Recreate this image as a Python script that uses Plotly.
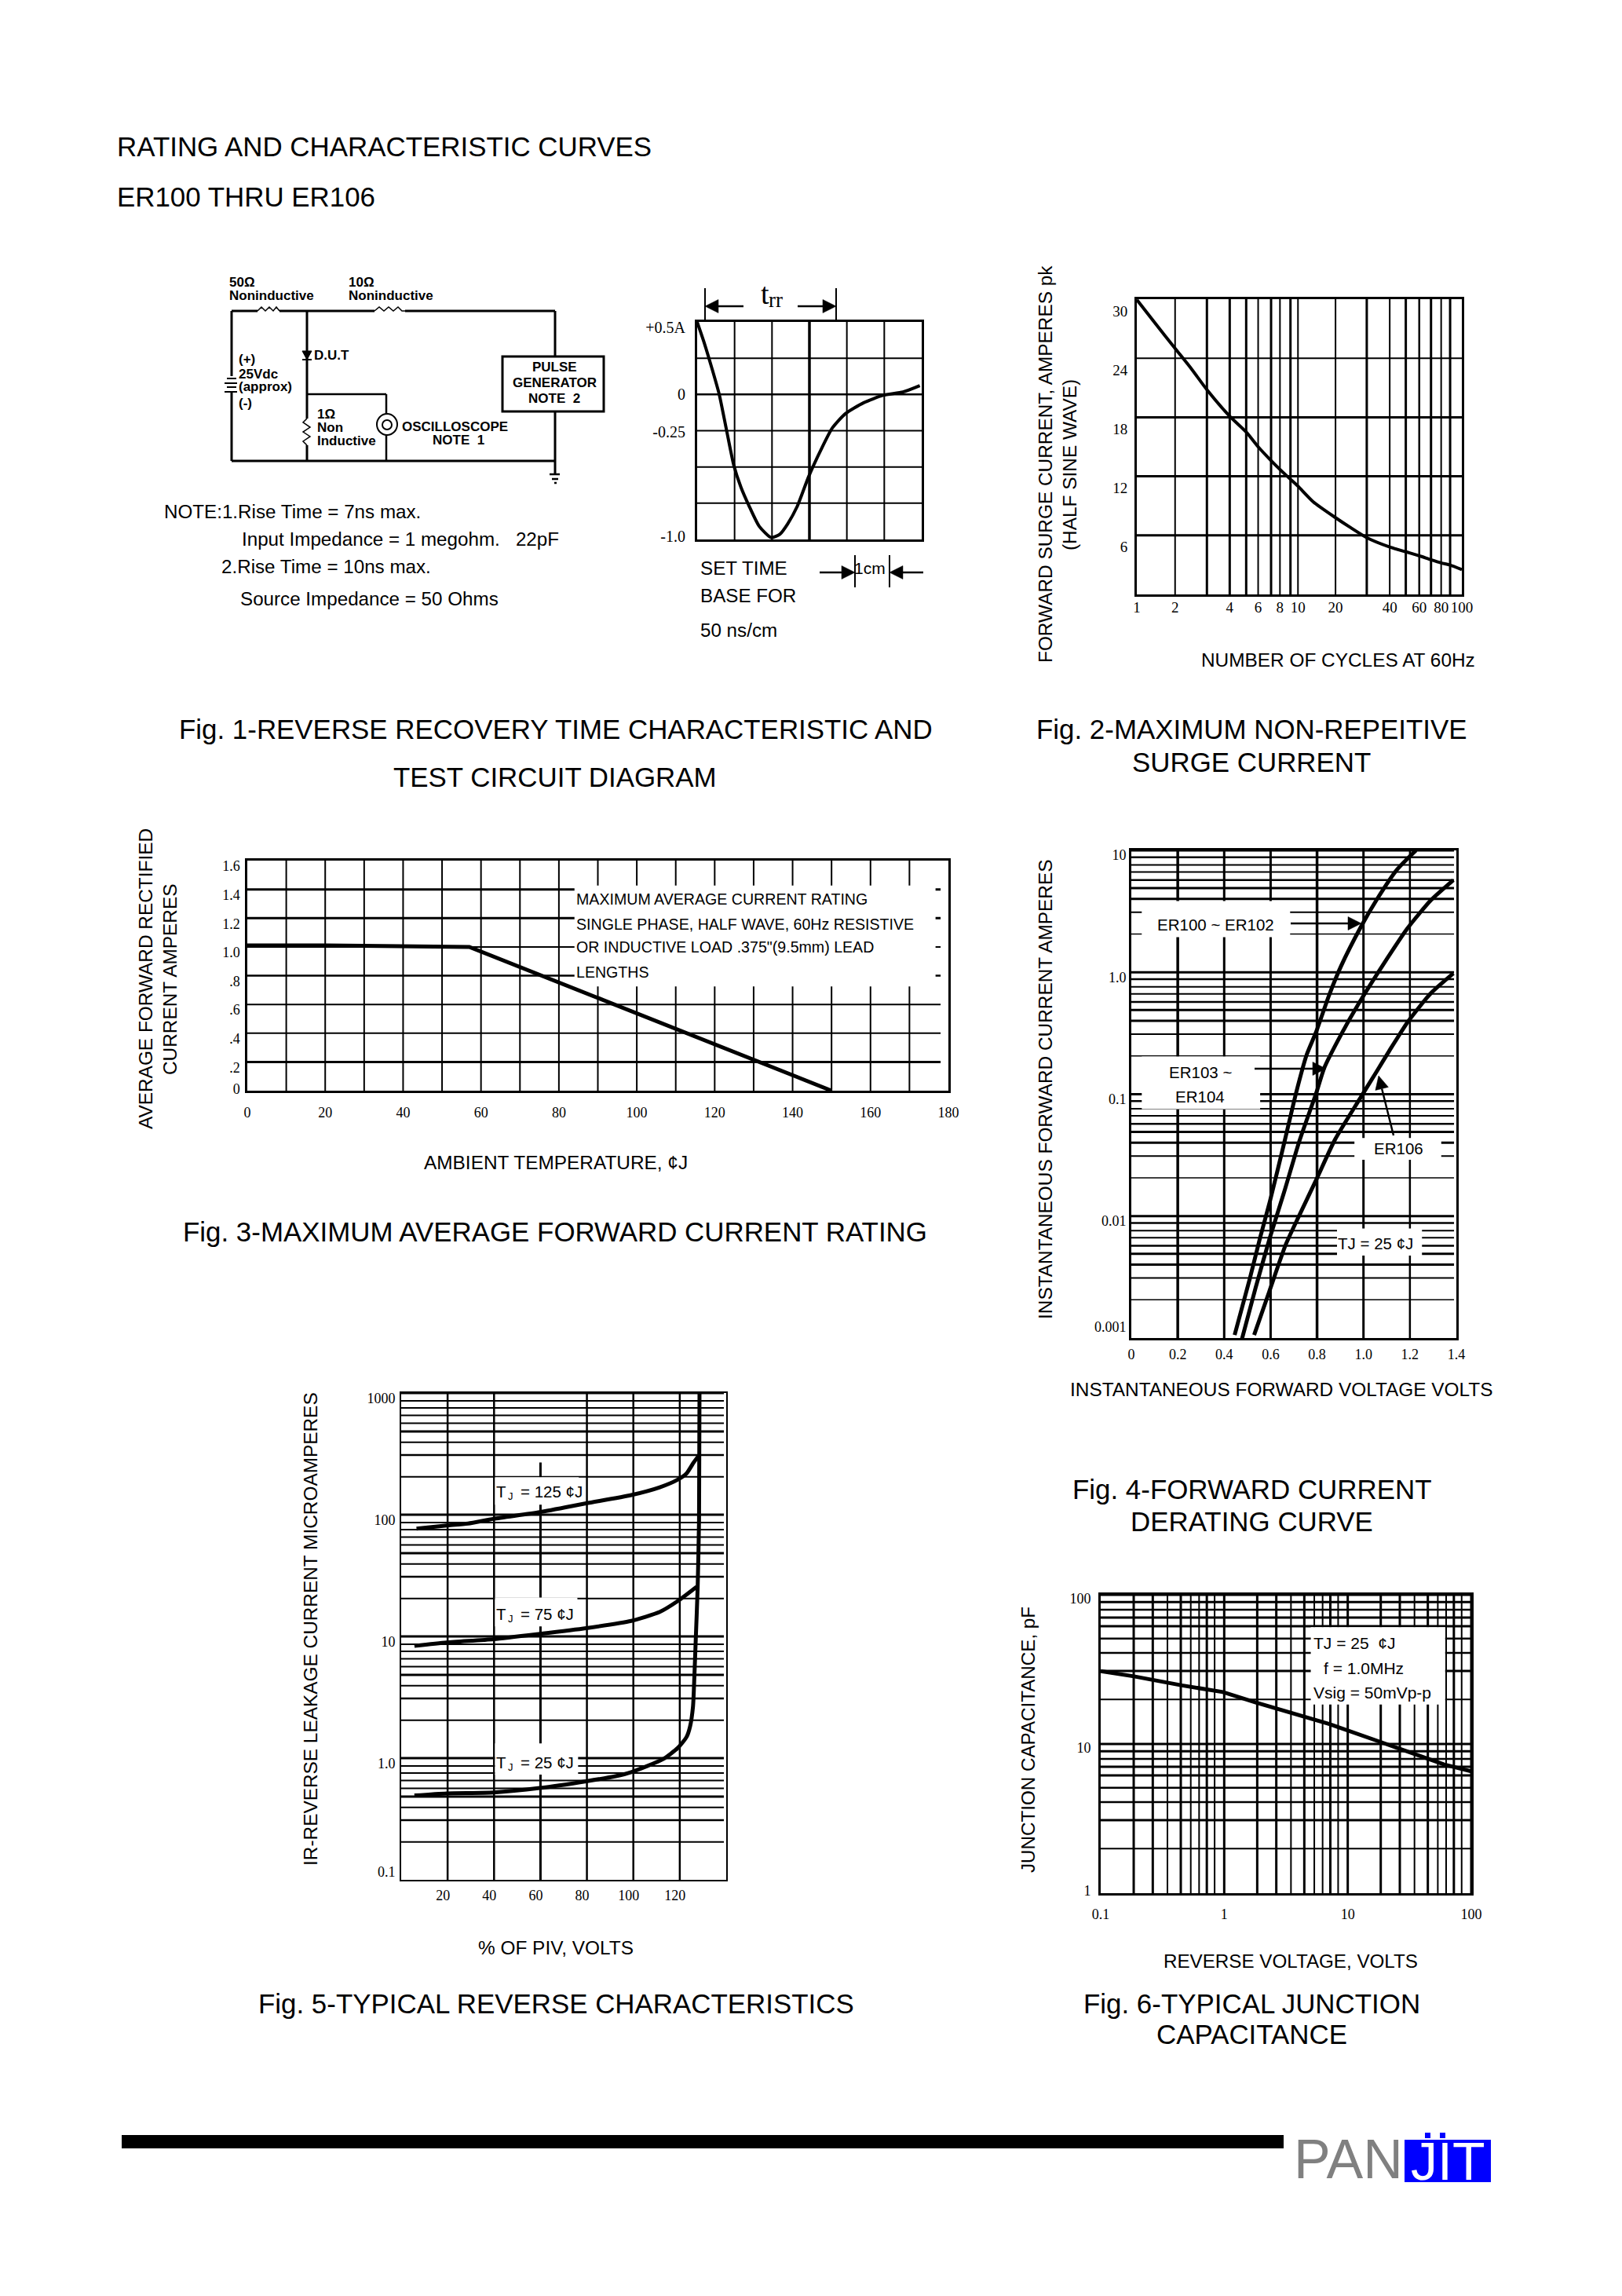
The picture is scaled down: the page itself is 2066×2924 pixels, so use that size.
import math
import plotly.graph_objects as go

W, H = 2066, 2924
SANS = "Liberation Sans"
SERIF = "Liberation Serif"

# ---------- Fig 1 scope trace ----------
f1_x = [0, .19, .40, .59, .78, .98, 1.17, 1.38, 1.66, 1.98, 2.21, 2.42, 2.67, 2.98, 3.30, 3.61, 3.96, 4.45, 4.97, 5.50, 5.95]
f1_y = [.5, .355, .175, 0, -.24, -.49, -.64, -.765, -.91, -.987, -.964, -.892, -.774, -.566, -.386, -.232, -.133, -.057, -.006, .017, .061]
f1_grid_x = [1, 2, 3, 4, 5]
f1_grid_xw = [2, 2, 3.5, 2, 2]
f1_grid_y = [.25, 0, -.25, -.5, -.75]
f1_grid_yw = [2, 2.5, 2, 2, 2]
f1_tickvals = [.46, 0, -.26, -.98]
f1_ticktext = ["+0.5A", "0", "-0.25", "-1.0"]

# ---------- Fig 2 surge ----------
f2_x = [1, 1.29, 1.74, 2.15, 2.70, 3.73, 4.71, 5.58, 6.70, 7.60, 8.82, 9.81, 12.2, 16.7, 20.4, 26, 36, 45.2, 54.7, 64.6, 74.6, 84.7, 100]
f2_y = [29.95, 27.6, 24.9, 23.0, 20.8, 18.1, 16.5, 15.0, 13.6, 12.7, 11.7, 11.0, 9.4, 7.8, 6.85, 5.77, 4.82, 4.33, 3.93, 3.52, 3.2, 2.98, 2.52]
f2_grid_x = [1.72, 2.70, 3.73, 4.71, 5.58, 6.70, 7.60, 8.82, 9.81, 16.7, 26, 36, 45.2, 54.7, 64.6, 74.6, 84.7]
f2_grid_xw = [2, 3, 3, 3, 2, 3, 2, 3, 2, 2, 3, 2, 3, 2.5, 3, 2, 3]
f2_grid_y = [24, 18, 12, 6]
f2_grid_yw = [2, 3, 3, 3]
f2_xtickvals = [1, 1.72, 3.73, 5.58, 7.6, 9.81, 16.7, 36, 54.7, 74.6, 100]
f2_xticktext = ["1", "2", "4", "6", "8", "10", "20", "40", "60", "80", "100"]
f2_ytickvals = [30, 24, 18, 12, 6]

# ---------- Fig 3 derating ----------
f3_x = [-.5, 20, 57, 150]
f3_y = [1.01, 1.01, 1.0, 0.0]
f3_grid_x = [10, 20, 30, 40, 50, 60, 70, 80, 90, 100, 110, 120, 130, 140, 150, 160, 170]
f3_grid_y = [1.4, 1.2, 1.0, .8, .6, .4, .2]
f3_grid_yw = [3, 3, 2, 2.5, 2, 2, 3]
f3_xticks = [0, 20, 40, 60, 80, 100, 120, 140, 160, 180]
f3_yticks = [1.6, 1.4, 1.2, 1.0, .8, .6, .4, .2, .05]
f3_yticktext = ["1.6", "1.4", "1.2", "1.0", ".8", ".6", ".4", ".2", "0"]

# ---------- Fig 4 forward current ----------
f4_ax = [.445, .510, .555, .597, .658, .710, .755, .797, .852, .903, .990, 1.058, 1.142, 1.226]
f4_ay = [.00106, .00305, .00668, .01324, .0395, .103, .21, .328, .65, 1.12, 2.38, 3.97, 6.87, 10]
f4_bx = [.477, .535, .597, .658, .723, .797, .832, .903, .981, 1.084, 1.19, 1.29, 1.387]
f4_by = [.00099, .00257, .00668, .0157, .0408, .103, .166, .307, .56, 1.15, 2.3, 3.9, 5.71]
f4_cx = [.529, .594, .665, .723, .797, .877, .981, 1.058, 1.11, 1.19, 1.29, 1.387]
f4_cy = [.00106, .0024, .00583, .0101, .01995, .0423, .0897, .155, .225, .39, .673, .98]
f4_mantissa = [2.06, 3.11, 4, 4.91, 5.71, 6.64, 7.6, 8.79, 10]
f4_mantissa_w = [1.5, 2, 3, 3, 2.5, 2, 2, 2.5, 3]
f4_decades = [.001, .01, .1, 1]
f4_grid_x = [.2, .4, .6, .8, 1.0, 1.2]
f4_grid_xw = [3.5, 3, 3, 3.5, 3, 2.5]
f4_xticks = [0, .2, .4, .6, .8, 1.0, 1.2, 1.4]
f4_xticktext = ["0", "0.2", "0.4", "0.6", "0.8", "1.0", "1.2", "1.4"]
f4_ytickvals = [10, 1, .1, .01, .00136]
f4_yticktext = ["10", "1.0", "0.1", "0.01", "0.001"]

# ---------- Fig 5 reverse characteristics ----------
f5_125x = [6.6, 19.6, 28.8, 39.8, 59.7, 79.7, 99.1, 111.4, 119.1, 122.9, 126, 128.2]
f5_125y = [76.8, 81.4, 84.6, 92.5, 105, 124, 145, 168, 194, 218, 269, 306]
f5_75x = [5.7, 19.6, 39.8, 59.7, 79.7, 99.1, 111.4, 119.1, 127.3]
f5_75y = [8.35, 8.91, 9.5, 10.5, 11.7, 13.4, 15.9, 19.5, 25.6]
f5_25x = [5.7, 19.6, 39.8, 59.7, 79.7, 92.4, 99.1, 112.7, 119.1, 122.9, 124.4, 125.7, 126.3, 126.9, 127.7, 128.3, 128.5]
f5_25y = [.493, .513, .522, .568, .646, .711, .768, .98, 1.21, 1.49, 1.81, 2.66, 4.74, 9.62, 25.2, 91.4, 1030]
f5_mantissa = [2.05, 3.09, 3.94, 4.83, 5.64, 6.54, 7.53, 8.62, 10]
f5_mantissa_w = [2, 2.5, 2, 3, 2, 2, 2, 2, 3]
f5_decades = [.1, 1, 10, 100]
f5_grid_x = [20, 40, 80, 100, 120]
f5_xticks = [20, 40, 60, 80, 100, 120]
f5_ytickvals = [1000, 100, 10, 1, .13]
f5_yticktext = ["1000", "100", "10", "1.0", "0.1"]

# ---------- Fig 6 capacitance ----------
f6_x = [.1, .186, .455, .977, 1.80, 3.39, 7.11, 17.9, 33.9, 60.4, 100]
f6_y = [30.8, 28.4, 24.7, 22.3, 19.0, 16.2, 13.6, 10.4, 8.56, 7.29, 6.55]
f6_x_mantissa = [1.85, 2.64, 3.47, 4.45, 5.36, 6.26, 7.23, 8.36, 10]
f6_x_mantissa_w = [3, 3, 2, 3, 2, 2, 3, 2, 3]
f6_x_decades = [.1, 1, 10]
f6_y_mantissa = [1.99, 3.09, 4.08, 5.09, 6.16, 7.03, 7.94, 8.93, 10]
f6_y_mantissa_w = [2, 3, 2.5, 2.5, 3, 3, 2.5, 3, 3]
f6_y_decades = [1, 10]
f6_xticks = [.1, 1, 10, 100]
f6_xticktext = ["0.1", "1", "10", "100"]
f6_ytickvals = [100, 10, 1.11]
f6_yticktext = ["100", "10", "1"]

# ---------- page texts ----------
FS_TITLE = 34.9
titles = [
    ("RATING AND CHARACTERISTIC CURVES", 147, 186, "left"),
    ("ER100 THRU ER106", 147, 250, "left"),
    ("Fig. 1-REVERSE RECOVERY TIME CHARACTERISTIC AND", 708, 929, "center"),
    ("TEST CIRCUIT DIAGRAM", 707, 990, "center"),
    ("Fig. 2-MAXIMUM NON-REPEITIVE", 1594, 929, "center"),
    ("SURGE CURRENT", 1594, 970, "center"),
    ("Fig. 3-MAXIMUM AVERAGE FORWARD CURRENT RATING", 707, 1568, "center"),
    ("Fig. 4-FORWARD CURRENT", 1594, 1896, "center"),
    ("DERATING CURVE", 1594, 1937, "center"),
    ("Fig. 5-TYPICAL REVERSE CHARACTERISTICS", 708, 2551, "center"),
    ("Fig. 6-TYPICAL JUNCTION", 1594, 2551, "center"),
    ("CAPACITANCE", 1594, 2590, "center"),
]
axis_labels = [
    ("NUMBER OF CYCLES AT 60Hz", 1704, 841, 24.4, 0),
    ("FORWARD SURGE CURRENT, AMPERES pk", 1331, 591, 24.4, -90),
    ("(HALF SINE WAVE)", 1363, 592, 24.4, -90),
    ("AVERAGE FORWARD RECTIFIED", 185, 1247, 24.4, -90),
    ("CURRENT AMPERES", 216, 1247, 24.4, -90),
    ("AMBIENT TEMPERATURE, ¢J", 708, 1480, 24.4, 0),
    ("INSTANTANEOUS FORWARD CURRENT AMPERES", 1331, 1388, 24.4, -90),
    ("INSTANTANEOUS FORWARD VOLTAGE VOLTS", 1632, 1769, 24.4, 0),
    ("IR-REVERSE LEAKAGE CURRENT MICROAMPERES", 395, 2075, 24.4, -90),
    ("% OF PIV, VOLTS", 708, 2480, 24.4, 0),
    ("JUNCTION CAPACITANCE, pF", 1309, 2216, 24.2, -90),
    ("REVERSE VOLTAGE, VOLTS", 1644, 2497, 24.2, 0),
]
notes = [
    ("NOTE:1.Rise Time = 7ns max.", 207, 651),
    ("Input Impedance = 1 megohm.   22pF", 306, 686),
    ("2.Rise Time = 10ns max.", 280, 722),
    ("Source Impedance = 50 Ohms", 304, 762),
    ("SET TIME", 890, 723),
    ("BASE FOR", 890, 758),
    ("50 ns/cm", 890, 802),
]
fig3_box_text = [
    ("MAXIMUM AVERAGE CURRENT RATING", 732, 1145),
    ("SINGLE PHASE, HALF WAVE, 60Hz RESISTIVE", 732, 1177),
    ("OR INDUCTIVE LOAD .375\"(9.5mm) LEAD", 732, 1206),
    ("LENGTHS", 732, 1238),
]
chart_labels = [
    ("ER100 ~ ER102", 1548, 1177, "center", 20.5),
    ("ER103 ~", 1529, 1365, "center", 20.5),
    ("ER104", 1528, 1396, "center", 20.5),
    ("ER106", 1781, 1462, "center", 20.5),
    ("TJ = 25 ¢J", 1752, 1583, "center", 20.5),
    ("TJ = 25  ¢J", 1671, 2092, "left", 21),
    ("f = 1.0MHz", 1684, 2124, "left", 21),
    ("Vsig = 50mVp-p", 1671, 2155, "left", 21),
]
tj_labels = [("= 125 ¢J", 1899), ("= 75 ¢J", 2055), ("= 25 ¢J", 2244)]
circuit_bold = [
    ("50Ω", 290, 359, "left"), ("Noninductive", 290, 377, "left"),
    ("10Ω", 442, 359, "left"), ("Noninductive", 442, 376, "left"),
    ("(+)", 302, 457, "left"), ("25Vdc", 302, 476, "left"),
    ("(approx)", 302, 493, "left"), ("(-)", 302, 513, "left"),
    ("D.U.T", 398, 452, "left"), ("1Ω", 402, 527, "left"),
    ("Non", 402, 545, "left"), ("Inductive", 402, 562, "left"),
    ("OSCILLOSCOPE", 510, 543, "left"), ("NOTE  1", 584, 560, "center"),
    ("PULSE", 706, 468, "center"), ("GENERATOR", 706, 488, "center"),
    ("NOTE  2", 706, 507, "center"),
]


def px(x):
    return x / W


def py(y):
    return 1 - y / H


shapes, annos = [], []


def seg(x0, y0, x1, y1, w=3):
    shapes.append(dict(type="line", xref="paper", yref="paper", x0=px(x0), y0=py(y0), x1=px(x1), y1=py(y1),
                       line=dict(color="black", width=w), layer="above"))


def poly(points, fill=None, w=2):
    d = "M " + " L ".join(f"{px(a):.5f},{py(b):.5f}" for a, b in points)
    if fill:
        d += " Z"
    shapes.append(dict(type="path", xref="paper", yref="paper", path=d, fillcolor=fill,
                       line=dict(color="black", width=w), layer="above"))


def txt(text, x, y, size=23, anchor="center", font=SANS, angle=0, color="black"):
    annos.append(dict(xref="paper", yref="paper", x=px(x), y=py(y), text=text, showarrow=False,
                      xanchor=anchor, yanchor="middle", textangle=angle,
                      font=dict(family=font, size=size, color=color)))


def arrow(x0, y0, x1, y1, w=2.5, hl=17, hw=8.5):
    L = math.hypot(x1 - x0, y1 - y0)
    ux, uy = (x1 - x0) / L, (y1 - y0) / L
    bx, by = x1 - ux * hl, y1 - uy * hl
    seg(x0, y0, bx, by, w)
    poly([(x1, y1), (bx - uy * hw, by + ux * hw), (bx + uy * hw, by - ux * hw)], fill="black", w=0.5)


def vline(xa, ya, x, lo, hi, w=2):
    shapes.append(dict(type="line", xref=xa, yref=ya, x0=x, x1=x, y0=lo, y1=hi,
                       line=dict(color="black", width=w), layer="below"))


def hline(xa, ya, y, lo, hi, w=2):
    shapes.append(dict(type="line", xref=xa, yref=ya, x0=lo, x1=hi, y0=y, y1=y,
                       line=dict(color="black", width=w), layer="below"))


def mask(xa, ya, x0, x1, y0, y1):
    shapes.append(dict(type="rect", xref=xa, yref=ya, x0=x0, x1=x1, y0=y0, y1=y1,
                       fillcolor="white", line=dict(width=0), layer="below"))


# Fig 1 grid
for v, w in zip(f1_grid_x, f1_grid_xw):
    vline("x", "y", v, -1, .5, w)
for v, w in zip(f1_grid_y, f1_grid_yw):
    hline("x", "y", v, 0, 6, w)
# Fig 2 grid
for v, w in zip(f2_grid_x, f2_grid_xw):
    vline("x2", "y2", v, 0, 30, w)
for v, w in zip(f2_grid_y, f2_grid_yw):
    hline("x2", "y2", v, 1, 100, w)
# Fig 3 grid
for v in f3_grid_x:
    vline("x3", "y3", v, 0, 1.6, 2)
for v, w in zip(f3_grid_y, f3_grid_yw):
    hline("x3", "y3", v, 0, 178, w)
mask("x3", "y3", 84, 176.7, .725, 1.427)
# Fig 4 grid
for v, w in zip(f4_grid_x, f4_grid_xw):
    vline("x4", "y4", v, .001, 10, w)
for d in f4_decades:
    for m, w in zip(f4_mantissa, f4_mantissa_w):
        hline("x4", "y4", d * m, 0, 1.39, w)
mask("x4", "y4", .045, .684, 1.94, 3.84)
mask("x4", "y4", .045, .555, .0755, .204)
mask("x4", "y4", .961, 1.335, .029, .0438)
mask("x4", "y4", .886, 1.252, .00475, .00793)
# Fig 5 grid
for v in f5_grid_x:
    vline("x5", "y5", v, .1, 1000, 2.5)
vline("x5", "y5", 60, .1, 269, 3)
for d in f5_decades:
    for m, w in zip(f5_mantissa, f5_mantissa_w):
        hline("x5", "y5", d * m, 0, 139, w)
mask("x5", "y5", 40.4, 76.5, 121, 203)
mask("x5", "y5", 40.4, 75.9, 12.1, 20.9)
mask("x5", "y5", 40.4, 76.2, .733, 1.32)
# Fig 6 grid
for d in f6_x_decades:
    for m, w in zip(f6_x_mantissa, f6_x_mantissa_w):
        vline("x6", "y6", d * m, 1, 100, w)
for d in f6_y_decades:
    for m, w in zip(f6_y_mantissa, f6_y_mantissa_w):
        hline("x6", "y6", d * m, .1, 100, w)
mask("x6", "y6", 5.02, 61.5, 18.4, 60.7)

# Circuit diagram
seg(295, 396, 328, 396); seg(356, 396, 477, 396); seg(516, 396, 707, 396)
poly([(328, 396), (333, 391), (338, 396), (343, 391), (348, 396), (352, 391), (356, 396)], w=1.5)
poly([(477, 396), (483, 391), (489, 396), (495, 391), (501, 396), (507, 391), (512, 396), (516, 396)], w=1.5)
seg(295, 396, 295, 479); seg(295, 500, 295, 587)
seg(289, 482, 301, 482, 2); seg(286, 488, 302, 488, 2); seg(289, 493, 301, 493, 2); seg(286, 499, 302, 499, 2)
seg(295, 587, 707, 587); seg(707, 396, 707, 454); seg(707, 524, 707, 603)
seg(700, 604, 713, 604, 2.5); seg(703, 610, 711, 610, 2.5); seg(706, 615, 709, 615, 2.5)
shapes.append(dict(type="rect", xref="paper", yref="paper", x0=px(640), x1=px(769), y0=py(454), y1=py(524),
                   line=dict(color="black", width=3), layer="above"))
seg(391, 396, 391, 533); seg(391, 567, 391, 587)
poly([(385, 447), (397, 447), (391, 458)], fill="black", w=1)
seg(385, 458, 397, 458, 2)
seg(391, 502, 492, 502, 2.5); seg(492, 502, 492, 530, 2.5); seg(492, 554, 492, 587, 2.5)
poly([(391, 533), (386, 538), (395, 544), (386, 550), (395, 556), (386, 562), (391, 567)], w=1.5)
shapes.append(dict(type="circle", xref="paper", yref="paper", x0=px(480), x1=px(506), y0=py(527), y1=py(554),
                   line=dict(color="black", width=2), fillcolor="white", layer="above"))
shapes.append(dict(type="circle", xref="paper", yref="paper", x0=px(487), x1=px(499), y0=py(535), y1=py(547),
                   line=dict(color="black", width=2), layer="above"))
for t, x, y, a in circuit_bold:
    txt(f"<b>{t}</b>", x, y, 17, a)

# trr marks
seg(898, 367, 898, 408, 2); seg(1065, 367, 1065, 408, 2)
arrow(947, 390, 898, 390)
arrow(1016, 390, 1065, 390)
txt("t", 967, 374, 38, "left", SERIF)
txt("rr", 977, 382, 27, "left", SERIF)
seg(1089, 707, 1089, 748, 2); seg(1133, 707, 1133, 748, 2)
arrow(1044, 729, 1089, 729)
arrow(1176, 729, 1133, 729)
txt("1cm", 1086, 723, 21, "left")

# Fig 4 arrows
arrow(1644, 1176, 1734, 1176)
arrow(1598, 1361, 1689, 1361)
arrow(1775, 1446, 1756, 1370)

for t, x, y, a in titles:
    txt(t, x, y, FS_TITLE, a)
for t, x, y, s, ang in axis_labels:
    txt(t, x, y, s, "center", SANS, ang)
for t, x, y in notes:
    txt(t, x, y, 24.2, "left")
for t, x, y in fig3_box_text:
    txt(t, x, y, 19.6, "left")
for t, x, y, a, s in chart_labels:
    txt(t, x, y, s, a)
for t, y in tj_labels:
    txt("T", 630, y, 20.5, "left")
    txt("J", 645, y + 6, 13, "left")
    txt(t, 661, y, 20.5, "left")

# Footer and logo
shapes.append(dict(type="rect", xref="paper", yref="paper", x0=px(155), x1=px(1635), y0=py(2719), y1=py(2736),
                   fillcolor="black", line=dict(width=0)))
shapes.append(dict(type="rect", xref="paper", yref="paper", x0=px(1789), x1=px(1899), y0=py(2725), y1=py(2779),
                   fillcolor="#0000ff", line=dict(width=0)))
for a in (1815, 1834):
    shapes.append(dict(type="rect", xref="paper", yref="paper", x0=px(a), x1=px(a + 7), y0=py(2716), y1=py(2723),
                       fillcolor="#0000ff", line=dict(width=0)))
txt("PAN", 1646, 2750, 70, "left", SANS, 0, "#808080")
txt("JIT", 1844, 2752, 68, "center", SANS, 0, "#ffffff")


def dom(a, b, total):
    return [a / total, b / total]


def xax(x0, x1, **kw):
    d = dict(domain=dom(x0, x1, W), showgrid=False, zeroline=False, showline=True, mirror=True, linecolor="black",
             ticks="", tickfont=dict(family=SERIF, size=18, color="black"), linewidth=3)
    d.update(kw)
    return d


def yax(y0, y1, **kw):
    d = dict(domain=[1 - y1 / H, 1 - y0 / H], showgrid=False, zeroline=False, showline=True, mirror=True,
             linecolor="black", ticks="", tickfont=dict(family=SERIF, size=18, color="black"), linewidth=3)
    d.update(kw)
    return d


layout = dict(
    width=W, height=H, margin=dict(l=0, r=0, t=0, b=0, pad=0, autoexpand=False), paper_bgcolor="white",
    plot_bgcolor="white", showlegend=False, shapes=shapes, annotations=annos,
    xaxis=xax(888, 1174, range=[0, 6], showticklabels=False, anchor="y"),
    yaxis=yax(410, 687, range=[-1, .5], tickvals=f1_tickvals, ticktext=f1_ticktext, anchor="x",
              ticklabelstandoff=8, tickfont=dict(family=SERIF, size=20, color="black")),
    xaxis2=xax(1448, 1862, type="log", range=[0, 2], tickvals=f2_xtickvals, ticktext=f2_xticktext, anchor="y2",
               ticklabelstandoff=-3, tickfont=dict(family=SERIF, size=19, color="black")),
    yaxis2=yax(381, 757, range=[0, 30], tickvals=f2_ytickvals, anchor="x2", ticklabelstandoff=5, ticklabelshift=15,
               tickfont=dict(family=SERIF, size=19, color="black")),
    xaxis3=xax(315, 1208, range=[0, 180], tickvals=f3_xticks, anchor="y3", ticklabelstandoff=10, linewidth=2.5),
    yaxis3=yax(1096, 1389, range=[0, 1.6], tickvals=f3_yticks, ticktext=f3_yticktext, anchor="x3",
               ticklabelstandoff=3, ticklabelshift=7, linewidth=2.5),
    xaxis4=xax(1441, 1855, range=[0, 1.4], tickvals=f4_xticks, ticktext=f4_xticktext, anchor="y4", ticklabelstandoff=2),
    yaxis4=yax(1083, 1704, type="log", range=[-3, 1], tickvals=f4_ytickvals, ticktext=f4_yticktext, anchor="x4",
               ticklabelstandoff=0, ticklabelshift=6),
    xaxis5=xax(511, 925, range=[0, 140], tickvals=f5_xticks, anchor="y5", ticklabelstandoff=2, ticklabelshift=-6,
               linewidth=2),
    yaxis5=yax(1774, 2394, type="log", range=[-1, 3], tickvals=f5_ytickvals, ticktext=f5_yticktext, anchor="x5",
               ticklabelstandoff=2, ticklabelshift=7, linewidth=2),
    xaxis6=xax(1402, 1874, type="log", range=[-1, 2], tickvals=f6_xticks, ticktext=f6_xticktext, anchor="y6",
               ticklabelstandoff=8),
    yaxis6=yax(2031, 2411, type="log", range=[0, 2], tickvals=f6_ytickvals, ticktext=f6_yticktext, anchor="x6",
               ticklabelstandoff=6, ticklabelshift=5),
)

fig = go.Figure(layout=layout)


def curve(x, y, ax, w=4, shape="spline"):
    fig.add_trace(go.Scatter(x=x, y=y, xaxis=ax[0], yaxis=ax[1], mode="lines", cliponaxis=False, hoverinfo="skip",
                             line=dict(color="black", width=w, shape=shape, smoothing=.6)))


curve(f1_x, f1_y, ("x", "y"), 4)
curve(f2_x, f2_y, ("x2", "y2"), 4)
curve(f3_x, f3_y, ("x3", "y3"), 5, "linear")
curve(f4_ax, f4_ay, ("x4", "y4"), 5)
curve(f4_bx, f4_by, ("x4", "y4"), 5)
curve(f4_cx, f4_cy, ("x4", "y4"), 5)
curve(f5_125x, f5_125y, ("x5", "y5"), 5)
curve(f5_75x, f5_75y, ("x5", "y5"), 5)
curve(f5_25x, f5_25y, ("x5", "y5"), 5)
curve(f6_x, f6_y, ("x6", "y6"), 5, "linear")

fig.write_html("out.html", post_script="document.body.style.margin='0';", config=dict(displayModeBar=False))
